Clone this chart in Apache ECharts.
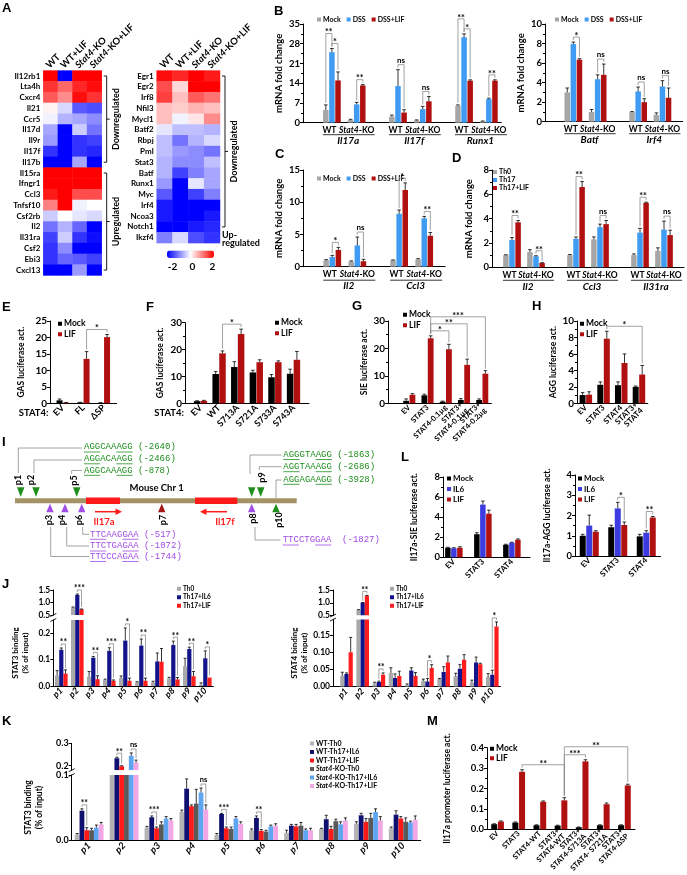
<!DOCTYPE html>
<html>
<head>
<meta charset="utf-8">
<title>Figure</title>
<script src="https://cdn.jsdelivr.net/npm/echarts@6.0.0/dist/echarts.min.js"></script>
<style>
html,body{margin:0;padding:0;background:#ffffff;}
#chart{width:687px;height:875px;}
</style>
</head>
<body>
<div id="chart"></div>
<script>
// ======================= DATA =======================
// ---- Panel A (z-scores) ----
const A_cols = ['WT','WT+LIF','Stat4-KO','Stat4-KO+LIF'];
const A1_genes = ['Il12rb1','Lta4h','Cxcr4','Il21','Ccr5','Il17d','Il9r','Il17f','Il17b','Il15ra','Ifngr1','Ccl3','Tnfsf10','Csf2rb','Il2','Il31ra','Csf2','Ebi3','Cxcl13'];
const A1_z = [
 [2.0,-2.0,2.0,2.0],[1.6,1.2,1.7,1.9],[1.3,0.9,1.9,1.6],[0.1,-0.3,-1.3,-1.4],[-0.1,-0.6,-0.7,-0.9],
 [-0.7,-2.0,-0.4,-1.1],[-0.8,-2.0,-1.6,-1.5],[-1.6,-2.0,-1.6,-1.7],[-2.0,-2.0,-0.7,-2.0],[2.0,2.0,2.0,2.0],
 [2.0,2.0,2.0,2.0],[1.8,2.0,1.4,1.4],[1.0,2.0,-0.1,0.0],[-0.4,0.0,-0.2,-0.3],[-1.1,-0.6,-1.2,-2.0],
 [-1.5,-0.4,-1.6,-1.9],[-1.6,-0.9,-2.0,-2.0],[-1.6,-1.2,-1.3,-1.5],[-2.0,-2.0,-0.8,-2.0]
];
const A2_genes = ['Egr1','Egr2','Irf8','Nfil3','Mycl1','Batf2','Rbpj','Pml','Stat3','Batf','Runx1','Myc','Irf4','Ncoa3','Notch1','Ikzf4'];
const A2_z = [
 [1.9,1.7,2.0,1.8],[1.4,0.3,2.0,2.0],[1.5,0.5,1.3,1.1],[0.5,0.4,0.6,0.5],[0.5,-0.1,0.2,0.9],
 [-0.2,-0.5,-0.5,-0.6],[-0.5,-1.1,-0.6,-0.3],[-0.5,-0.8,-0.9,-1.1],[-0.6,-0.9,-0.9,-0.5],[-0.6,-1.5,-1.0,-0.7],
 [-0.8,-2.0,-0.2,-0.7],[-1.3,-2.0,-1.5,-1.0],[-1.8,-2.0,-2.0,-2.0],[-1.8,-2.0,-2.0,-1.8],[-2.0,-2.0,-1.8,-1.7],
 [-1.0,-0.3,-1.4,-1.6]
];
const A_scaleTicks = [-2, 0, 2];

// ---- Panel B ----
const B1_groups = ['WT','Stat4-KO','WT','Stat4-KO','WT','Stat4-KO'];
const B1_genes = ['Il17a','Il17f','Runx1'];
const B1_mock = [4.5,1.0,2.2,0.8,6.0,0.5];
const B1_mockErr = [1.8,0.2,0.5,0.2,0.3,0.1];
const B1_dss = [25.0,6.5,13.0,4.8,30.3,8.4];
const B1_dssErr = [1.3,0.7,5.8,1.0,1.2,0.3];
const B1_lif = [15.0,13.2,3.6,7.6,14.9,14.9];
const B1_lifErr = [3.0,0.3,1.0,1.7,0.3,0.3];
const B1_sig = [[0,1,0,2,'*'],[0,0,0,1,'**'],[1,1,1,2,'**'],[2,1,2,2,'ns'],[3,1,3,2,'ns'],[4,1,4,2,'*'],[4,0,4,1,'**'],[5,1,5,2,'**']];

const B2_groups = ['WT','Stat4-KO','WT','Stat4-KO'];
const B2_genes = ['Batf','Irf4'];
const B2_mock = [3.0,1.0,1.0,0.7];
const B2_mockErr = [0.45,0.25,0.05,0.2];
const B2_dss = [7.95,4.35,3.1,3.6];
const B2_dssErr = [0.2,0.45,0.45,0.6];
const B2_lif = [6.35,4.8,2.0,2.45];
const B2_lifErr = [0.1,1.1,0.35,1.0];
const B2_sig = [[0,1,0,2,'*'],[1,1,1,2,'ns'],[2,1,2,2,'ns'],[3,1,3,2,'ns']];

// ---- Panel C ----
const C_groups = ['WT','Stat4-KO','WT','Stat4-KO'];
const C_genes = ['Il2','Ccl3'];
const C_mock = [1.0,0.8,1.0,1.15];
const C_mockErr = [0.1,0.1,0.05,0.1];
const C_dss = [1.5,3.3,8.2,7.5];
const C_dssErr = [0.25,1.3,0.6,0.3];
const C_lif = [2.6,0.85,11.9,4.8];
const C_lifErr = [0.4,0.3,1.1,0.5];
const C_sig = [[0,1,0,2,'*'],[1,1,1,2,'ns'],[2,1,2,2,'*'],[3,1,3,2,'**']];

// ---- Panel D ----
const D_groups = ['WT','Stat4-KO','WT','Stat4-KO','WT','Stat4-KO'];
const D_genes = ['Il2','Ccl3','Il31ra'];
const D_th0 = [1.0,1.25,1.0,2.3,1.0,1.35];
const D_th0Err = [0.03,0.2,0.05,0.2,0.1,0.25];
const D_th17 = [2.25,0.9,2.35,3.3,2.85,3.1];
const D_th17Err = [0.2,0.05,0.15,0.25,0.35,0.7];
const D_lif = [3.7,0.35,6.6,3.55,5.3,2.65];
const D_lifErr = [0.15,0.03,0.45,0.3,0.05,0.4];
const D_sig = [[0,1,0,2,'**'],[1,1,1,2,'**'],[2,1,2,2,'**'],[3,1,3,2,'ns'],[4,1,4,2,'**'],[5,1,5,2,'ns']];

// ---- Panel E ----
const E_groups = ['EV','FL','ΔSP'];
const E_mock = [0.9,0.25,0.15];
const E_mockErr = [0.4,0.05,0.05];
const E_lif = [0.2,13.5,20.1];
const E_lifErr = [0.05,2.2,0.8];
const E_sig = [[1,1,2,1,'*']];

// ---- Panel F ----
const F_groups = ['EV','WT','S713A','S721A','S733A','S743A'];
const F_mock = [0.8,10.9,13.5,11.5,9.7,11.0];
const F_mockErr = [0.15,0.9,2.0,0.8,1.0,1.7];
const F_lif = [0.9,18.6,25.8,15.3,15.3,16.2];
const F_lifErr = [0.2,0.9,1.8,0.9,0.5,3.1];
const F_sig = [[1,1,2,1,'*']];

// ---- Panel G ----
const G_groups = ['EV','STAT3','STAT4-0.1µg','STAT3+\nSTAT4-0.1µg','STAT3+\nSTAT4-0.2µg'];
const G_mock = [0.9,2.9,0.6,1.2,1.2];
const G_mockErr = [0.7,0.4,0.2,0.5,0.4];
const G_lif = [3.1,23.7,19.7,14.0,10.8];
const G_lifErr = [0.4,0.9,1.8,2.1,1.1];
const G_sig = [[1,1,2,1,'*'],[1,1,3,1,'**'],[1,1,4,1,'***']];

// ---- Panel H ----
const H_groups = ['EV','STAT3','STAT4','STAT3+\nSTAT4'];
const H_mock = [1.0,2.25,2.2,2.0];
const H_mockErr = [0.3,0.35,0.4,0.1];
const H_lif = [1.05,7.85,4.9,3.5];
const H_lifErr = [0.35,0.9,1.1,1.1];
const H_sig = [[1,1,3,1,'*']];

// ---- Panel I ----
const I_aggSites = ['p1','p2','p5','p8','p9','p10'];
const I_aggSeqs = ['AGGCAAAGG','AGGACAAGG','AGGCAAAGG','AGGGTAAGG','AGGTAAAGG','AGGAGAAGG'];
const I_aggPos = ['(-2640)','(-2466)','(-878)','(-1863)','(-2686)','(-3928)'];
const I_ttcSites = ['p6','p4','p3','p8'];
const I_ttcSeqs = ['TTCAAGGAA','TTCTGAGAA','TTCCCAGAA','TTCCTGGAA'];
const I_ttcPos = ['(-517)','(-1072)','(-1744)','(-1827)'];

// ---- Panel L ----
const L_groups = ['EV','STAT3','STAT4'];
const L1_mock = [0.95,2.3,1.25];
const L1_mockErr = [0.05,0.15,0.05];
const L1_il6 = [0.9,5.25,1.45];
const L1_il6Err = [0.05,0.35,0.05];
const L1_lif = [0.95,4.35,1.75];
const L1_lifErr = [0.1,0.35,0.08];
const L2_mock = [1.0,1.42,0.97];
const L2_mockErr = [0.07,0.1,0.1];
const L2_il6 = [1.5,2.35,1.15];
const L2_il6Err = [0.52,0.3,0.1];
const L2_lif = [1.2,1.53,1.9];
const L2_lifErr = [0.05,0.15,0.05];
const L2_sig = [[1,1,1,2,'*'],[2,1,2,2,'**']];

// ---- Panel J ----
const J_sites = ['p1','p2','p3','p4','p5','p6','p7','p8','p9','p10'];
const J1_th0 = [0.04,0.8,0.035,0.022,0.03,0.013,0.013,0.028,0.075,0.005];
const J1_th0Err = [0.018,0.02,0.02,0.004,0.008,0.003,0.005,0.005,0.03,0.007];
const J1_il6 = [0.137,1.3,0.107,0.133,0.172,0.153,0.093,0.155,0.14,0.105];
const J1_il6Err = [0.007,0.04,0.005,0.012,0.048,0.025,0.032,0.015,0.007,0.028];
const J1_lif = [0.047,0.73,0.026,0.02,0.02,0.02,0.092,0.025,0.037,0.032];
const J1_lifErr = [0.014,0.01,0.013,0.003,0.01,0.01,0.05,0.007,0.018,0.0];
const J1_sigLow = [[0,1,0,2,'**'],[2,1,2,2,'**'],[3,1,3,2,'***'],[4,1,4,2,'*'],[5,1,5,2,'**'],[7,1,7,2,'**'],[8,1,8,2,'**'],[9,1,9,2,'*']];
const J1_sigUp = [[1,1,1,2,'***']];
const J2_th0 = [0.032,0.72,0.01,0.04,0.005,0.017,0.022,0.03,0.012,0.028];
const J2_th0Err = [0.01,0.01,0.003,0.015,0.003,0.005,0.002,0.009,0.007,0.01];
const J2_il6 = [0.037,1.0,0.014,0.025,0.047,0.015,0.043,0.052,0.07,0.035];
const J2_il6Err = [0.003,0.01,0.002,0.012,0.008,0.009,0.015,0.012,0.016,0.013];
const J2_lif = [0.1,1.27,0.035,0.031,0.031,0.054,0.07,0.078,0.065,0.175];
const J2_lifErr = [0.043,0.02,0.005,0.014,0.01,0.01,0.019,0.015,0.003,0.013];
const J2_sigLow = [[2,1,2,2,'**'],[5,1,5,2,'*'],[9,1,9,2,'*']];
const J2_sigUp = [[1,1,1,2,'**']];

// ---- Panel K ----
const K_names = ['WT-Th0','WT-Th17+IL6','WT-Th17+LIF','Stat4-KO-Th0','Stat4-KO-Th17+IL6','Stat4-KO-Th17+LIF'];
const K_wtTh0 = [0.008,0.15,0.019,0.043,0.008,0.015,0.011,0.017,0.025,0.018];
const K_wtTh0Err = [0.002,0.005,0.002,0.003,0.002,0.002,0.004,0.001,0.003,0.002];
const K_wtIl6 = [0.045,0.233,0.035,0.079,0.04,0.034,0.022,0.032,0.038,0.039];
const K_wtIl6Err = [0.003,0.005,0.002,0.015,0.001,0.003,0.002,0.006,0.003,0.006];
const K_wtLif = [0.015,0.198,0.018,0.052,0.018,0.014,0.021,0.017,0.028,0.033];
const K_wtLifErr = [0.004,0.002,0.002,0.002,0.002,0.002,0.003,0.004,0.005,0.003];
const K_koTh0 = [0.015,0.15,0.024,0.056,0.017,0.013,0.022,0.029,0.034,0.028];
const K_koTh0Err = [0.003,0.005,0.004,0.022,0.003,0.002,0.005,0.003,0.007,0.006];
const K_koIl6 = [0.019,0.245,0.033,0.073,0.033,0.021,0.015,0.024,0.043,0.027];
const K_koIl6Err = [0.004,0.012,0.003,0.007,0.003,0.002,0.002,0.004,0.005,0.002];
const K_koLif = [0.024,0.213,0.03,0.047,0.025,0.022,0.015,0.03,0.03,0.031];
const K_koLifErr = [0.003,0.012,0.003,0.007,0.003,0.003,0.003,0.004,0.006,0.006];
const K_sigLow = [[0,1,0,2,'**'],[2,1,2,2,'***'],[3,4,3,5,'ns'],[4,1,4,2,'***'],[5,1,5,2,'**']];
const K_sigUp = [[1,1,1,2,'**'],[1,4,1,5,'ns']];

// ---- Panel M ----
const M_groups = ['EV','STAT3','STAT4-WT','STAT3+\nSTAT4-WT','STAT3+\nSTAT4-S713A','STAT3+\nSTAT4- S721A','STAT3+\nSTAT4-ΔSP'];
const M_mock = [0.025,0.033,0.02,0.018,0.01,0.02,0.02];
const M_mockErr = [0.002,0.003,0.002,0.002,0.001,0.002,0.002];
const M_lif = [0.038,0.282,0.135,0.142,0.333,0.123,0.215];
const M_lifErr = [0.003,0.01,0.004,0.013,0.008,0.006,0.006];
const M_sig = [[1,1,3,1,'**'],[3,1,4,1,'***'],[3,1,6,1,'**']];

// ======================= STYLE =======================
const FONT = 'Lato, "Liberation Sans", Arial, sans-serif';
const C_GRAY = '#a6a6a6', C_BLUE = '#3f9cf2', C_DRED = '#b01010', C_BLACK = '#000000', C_IL6 = '#3b3be0';
const J_GRAY = '#a9a9a9', J_NAVY = '#13138a', J_RED = '#ff1c1c';
const K_COLORS = ['#b4b4b4','#101070','#ff1a1a','#5a5a5a','#5ea6f2','#f2a6e6'];

const option = { animation:false, backgroundColor:'#ffffff', grid:[], xAxis:[], yAxis:[], series:[], legend:[], graphic:[], visualMap:[] };
const richI = fs => ({ i:{ fontStyle:'italic', fontWeight:'bold', fontSize:fs, fontFamily:FONT, color:'#000' },
                       w:{ fontWeight:'bold', fontSize:fs, fontFamily:FONT, color:'#000', padding:[0,5,0,0] } });
const ital = s => String(s).replace('Stat4', '{i|Stat4}');
const slotsPaired = (n, lead) => Array.from({length:n}, (_, i) => lead + i*3 + Math.floor(i/2)*2);
const slotsEven = (n, lead, step) => Array.from({length:n}, (_, i) => lead + i*step);
function tstyle(o){ return Object.assign({ fill:'#000', align:o.textAlign||'center', verticalAlign:o.textVerticalAlign||'middle' }, o); }

// ======================= BAR PANEL =======================
function barPanel(p) {
  const gi = option.grid.length;
  option.grid.push({ left:p.x0, top:p.yTop, width:p.N*p.w, height:p.yBot-p.yTop });
  const cats = new Array(p.N).fill('');
  if (p.labels) p.pos.forEach((s,i)=>{ cats[s] = p.labels[i]; });
  const xi = option.xAxis.length, yi = option.yAxis.length;
  const xFs = p.xFs || 9;
  const xAxis = { gridIndex:gi, type:'category', data:cats,
    axisLine:{ show:p.xLine!==false, lineStyle:{color:'#000', width:1} },
    axisTick:{ show:false }, splitLine:{ show:false },
    axisLabel: p.xLine===false ? {show:false} : Object.assign({ interval:0, color:'#000', fontFamily:FONT, fontWeight:'bold', fontSize:xFs, margin:3, rich:richI(xFs),
      formatter:v => (p.genes && v==='WT') ? '{w|WT}' : ital(v) }, p.xLabel||{}) };
  if (p.xName) Object.assign(xAxis, { name:p.xName, nameLocation:'start', nameGap:p.xNameGap||2,
    nameTextStyle:{ color:'#000', fontFamily:FONT, fontWeight:'bold', fontSize:9.5, verticalAlign:'top', align:'right', padding:[5,0,0,0] } });
  option.xAxis.push(xAxis);
  const tFs = p.tickFs || 9.5, nFs = p.nameFs || 9;
  const yAxis = { gridIndex:gi, type:'value', min:p.ymin, max:p.ymax,
    axisLine:{ show:true, lineStyle:{color:'#000', width:1} },
    axisTick:{ show:true, length:3, lineStyle:{color:'#000', width:1} },
    minorTick:{ show:!!p.minor, splitNumber:2, length:2, lineStyle:{color:'#000', width:1} },
    splitLine:{ show:false }, minorSplitLine:{ show:false },
    axisLabel:{ color:'#000', fontFamily:FONT, fontWeight:'bold', fontSize:tFs, margin:3 },
    name:p.yName||'', nameLocation:'middle', nameGap:p.nameGap||20,
    nameTextStyle:{ color:'#000', fontFamily:FONT, fontWeight:'bold', fontSize:nFs, lineHeight:Math.round(nFs*1.25) } };
  if (p.yint != null) yAxis.interval = p.yint;
  if (p.yFmt) yAxis.axisLabel.formatter = p.yFmt;
  if (p.yCustom) { yAxis.axisLabel.customValues = p.yCustom; yAxis.axisTick.customValues = p.yCustom; }
  option.yAxis.push(yAxis);

  const n = p.series.length, bw = p.bw, step = p.bw + (p.gp||0), cap = p.cap || 1.8;
  const off = j => (j - (n-1)/2) * step;
  const ymin = p.ymin;
  p.series.forEach((s, j) => {
    option.series.push({ type:'custom', name:s.name+'#'+p.id, coordinateSystem:'cartesian2d', xAxisIndex:xi, yAxisIndex:yi,
      clip:!!p.clip, silent:true, itemStyle:{ color:s.color },
      data:p.pos.map((slot,i)=>[slot, s.vals[i], s.errs[i]]),
      renderItem:(params, api) => {
        const slot = api.value(0), v = api.value(1), e = api.value(2);
        if (!(v > ymin)) return null;
        const b = api.coord([slot, ymin]), t = api.coord([slot, v]), te = api.coord([slot, v+e]);
        const cx = b[0] + off(j);
        const ch = [{ type:'rect', shape:{ x:cx-bw/2, y:t[1], width:bw, height:b[1]-t[1] }, style:{ fill:s.color } }];
        if (e > 0) {
          ch.push({ type:'line', shape:{ x1:cx, y1:t[1], x2:cx, y2:te[1] }, style:{ stroke:'#000', lineWidth:0.8 } });
          ch.push({ type:'line', shape:{ x1:cx-cap, y1:te[1], x2:cx+cap, y2:te[1] }, style:{ stroke:'#000', lineWidth:0.8 } });
        }
        return { type:'group', children:ch };
      } });
  });

  if (p.sig && p.sig.length) {
    const pad = p.pad || 5, lvl = p.lvl || 9;
    const geo = api => {
      const res = [];
      const bx = (g,s) => api.coord([p.pos[g], ymin])[0] + off(s);
      const top = (g,s) => api.coord([p.pos[g], p.series[s].vals[g] + p.series[s].errs[g]])[1];
      p.sig.forEach(sg => {
        const [gA, sA, gB, sB, label] = sg;
        let m = Infinity;
        for (let g = gA; g <= gB; g++) for (let s = (g===gA?sA:0); s <= (g===gB?sB:n-1); s++) m = Math.min(m, top(g,s));
        const x1 = bx(gA,sA), x2 = bx(gB,sB);
        let yh = m - pad;
        res.forEach(r => { if (r.x1 <= x2 + 0.1 && x1 <= r.x2 + 0.1) yh = Math.min(yh, r.yh - lvl); });
        res.push({ x1, x2, yh, yA:top(gA,sA), yB:top(gB,sB), label });
      });
      return res;
    };
    const sfs = p.sigFs || 9;
    option.series.push({ type:'custom', coordinateSystem:'cartesian2d', xAxisIndex:xi, yAxisIndex:yi, silent:true, clip:false, z:5,
      data:p.sig.map(()=>[p.pos[0], ymin]),
      renderItem:(params, api) => {
        const r = geo(api)[params.dataIndex];
        const stars = r.label !== 'ns';
        return { type:'group', children:[
          { type:'polyline', shape:{ points:[[r.x1, Math.max(r.yA-2, r.yh)], [r.x1, r.yh], [r.x2, r.yh], [r.x2, Math.max(r.yB-2, r.yh)]] }, style:{ stroke:'#8a8a8a', lineWidth:0.8, fill:null } },
          { type:'text', x:(r.x1+r.x2)/2, y:r.yh + (stars ? sfs*0.38 : -0.5),
            style:tstyle({ text:r.label, font:'bold '+(stars?sfs:sfs-1)+'px '+FONT, textAlign:'center', textVerticalAlign:'bottom' }) }
        ] };
      } });
  }

  if (p.genes) {
    const gdy = p.geneDy || [12, 13];
    option.series.push({ type:'custom', coordinateSystem:'cartesian2d', xAxisIndex:xi, yAxisIndex:yi, silent:true, clip:false,
      data:p.genes.map(()=>[p.pos[0], ymin]),
      renderItem:(params, api) => {
        const k = params.dataIndex;
        const pa = api.coord([p.pos[2*k], ymin]), pb = api.coord([p.pos[2*k+1], ymin]);
        const y0 = pa[1];
        return { type:'group', children:[
          { type:'line', shape:{ x1:pa[0]-9, y1:y0+gdy[0], x2:pb[0]+18, y2:y0+gdy[0] }, style:{ stroke:'#000', lineWidth:0.8 } },
          { type:'text', x:(pa[0]+pb[0])/2+4, y:y0+gdy[1], style:tstyle({ text:p.genes[k], font:'italic bold 10px '+FONT, textAlign:'center', textVerticalAlign:'top' }) }
        ] };
      } });
  }

  if (p.legend) {
    const L = p.legend, fs = L.fs || 7;
    option.legend.push({ data:p.series.map(s=>s.name+'#'+p.id), left:L.left, top:L.top, orient:L.orient||'vertical',
      itemWidth:L.icon||4, itemHeight:L.icon||4, itemGap:L.gap!=null?L.gap:2, icon:'rect', padding:0, selectedMode:false,
      formatter:nm => ital(nm.split('#')[0]),
      textStyle:{ color:'#000', fontFamily:FONT, fontWeight:'bold', fontSize:fs, lineHeight:fs+1, padding:[0,0,0,-3], rich:richI(fs) } });
  }
  return { xi, yi };
}

// ======================= PANEL A (heatmaps) =======================
const ROWH = 10.78;
function heatPanel(left, top, width, genes, z, brackets, extraText) {
  const gi = option.grid.length;
  option.grid.push({ left, top, width, height:genes.length*ROWH });
  const xi = option.xAxis.length, yi = option.yAxis.length;
  option.xAxis.push({ gridIndex:gi, type:'category', data:A_cols, position:'top', axisLine:{show:false}, axisTick:{show:false}, splitLine:{show:false},
    axisLabel:{ show:false } });
  option.yAxis.push({ gridIndex:gi, type:'category', data:genes, inverse:true, axisLine:{show:false}, axisTick:{show:false}, splitLine:{show:false},
    axisLabel:{ interval:0, margin:3, color:'#000', fontFamily:FONT, fontWeight:'bold', fontSize:8 } });
  const data = [];
  z.forEach((row, r) => row.forEach((v, c) => data.push([c, r, v])));
  const si = option.series.length;
  option.series.push({ type:'heatmap', xAxisIndex:xi, yAxisIndex:yi, data, silent:true, itemStyle:{ borderWidth:0 }, progressive:0 });
  // rotated column labels (through the category axis)
  option.series.push({ type:'custom', coordinateSystem:'cartesian2d', xAxisIndex:xi, yAxisIndex:yi, silent:true, clip:false,
    data:A_cols.map((c,i)=>[i, 0]),
    renderItem:(params, api) => {
      const cs = params.coordSys;
      const x = api.coord([api.value(0), 0])[0];
      return { type:'text', x:x-3, y:cs.y-4, rotation:Math.PI/4,
        style:{ text:ital(A_cols[params.dataIndex]), font:'bold 9.5px '+FONT, fill:'#000', align:'left', verticalAlign:'middle',
                rich:{ i:{ fontStyle:'italic', fontWeight:'bold', fontSize:9.5, fontFamily:FONT, fill:'#000' } } } };
    } });
  option.series.push({ type:'custom', coordinateSystem:'cartesian2d', xAxisIndex:xi, yAxisIndex:yi, silent:true, clip:false,
    data:brackets.map(b=>[0, b.r0]),
    renderItem:(params, api) => {
      const d = brackets[params.dataIndex];
      const cs = params.coordSys;
      const x = cs.x + cs.width + 5;
      const y0 = api.coord([0, d.r0])[1], y1 = api.coord([0, d.r1])[1], ym = (y0+y1)/2;
      return { type:'group', children:[
        { type:'polyline', shape:{ points:[[x-3,y0],[x,y0],[x,y1],[x-3,y1]] }, style:{ stroke:'#000', lineWidth:0.9, fill:null } },
        { type:'line', shape:{ x1:x, y1:ym, x2:x+3, y2:ym }, style:{ stroke:'#000', lineWidth:0.9 } },
        { type:'text', rotation:Math.PI/2, x:x+9, y:ym, style:tstyle({ text:d.text, font:'bold 9px '+FONT }) }
      ] };
    } });
  if (extraText) {
    option.series.push({ type:'custom', coordinateSystem:'cartesian2d', xAxisIndex:xi, yAxisIndex:yi, silent:true, clip:false,
      data:[[0, extraText.row]],
      renderItem:(params, api) => {
        const cs = params.coordSys;
        const y = api.coord([0, extraText.row])[1];
        return { type:'text', x:cs.x+cs.width+2, y:y+1, style:tstyle({ text:extraText.text, font:'bold 9px '+FONT, textAlign:'left', textVerticalAlign:'middle', lineHeight:8 }) };
      } });
  }
  return si;
}
const hs1 = heatPanel(43.3, 70.6, 58.4, A1_genes, A1_z, [{r0:0, r1:8, text:'Downregulated'}, {r0:9, r1:18, text:'Upregulated'}]);
const hs2 = heatPanel(156.7, 70.6, 63.3, A2_genes, A2_z, [{r0:0, r1:14, text:'Downregulated'}], {row:15, text:'Up-\nregulated'});
option.visualMap.push({ type:'continuous', min:-2, max:2, seriesIndex:[hs1, hs2], orient:'horizontal', left:167, top:250.5,
  itemWidth:7.5, itemHeight:47, calculable:false, padding:0, hoverLink:false, text:null, showLabel:false,
  inRange:{ color:['#0000ff','#ffffff','#ff0000'] } });
(function(){
  const gi = option.grid.length;
  option.grid.push({ left:172.5, top:258, width:40, height:1 });
  option.xAxis.push({ gridIndex:gi, type:'value', min:A_scaleTicks[0], max:A_scaleTicks[2], interval:A_scaleTicks[2]-A_scaleTicks[1],
    axisLine:{show:false}, axisTick:{show:false}, splitLine:{show:false},
    axisLabel:{ color:'#000', fontFamily:FONT, fontWeight:'bold', fontSize:10, margin:3 } });
  option.yAxis.push({ gridIndex:gi, type:'value', show:false });
})();

// ======================= PANELS B, C, D =======================
const mdl = (a,b,c,ae,be,ce,names,cols) => [
  {name:names[0], color:cols[0], vals:a, errs:ae},{name:names[1], color:cols[1], vals:b, errs:be},{name:names[2], color:cols[2], vals:c, errs:ce}];
const BC_names = ['Mock','DSS','DSS+LIF'], BC_cols = [C_GRAY, C_BLUE, C_DRED];
barPanel({ id:'B1', x0:303, w:8.26, N:24, pos:slotsPaired(6,3), yTop:24, yBot:122.7, labels:B1_groups, genes:B1_genes, xFs:8.5,
  series:mdl(B1_mock,B1_dss,B1_lif,B1_mockErr,B1_dssErr,B1_lifErr,BC_names,BC_cols),
  ymin:0, ymax:35, yint:7, minor:true, bw:5.5, gp:0.6, sig:B1_sig, pad:5, lvl:10,
  yName:'mRNA fold change', nameGap:12.5, nameFs:9.5, tickFs:9.5, legend:{left:317, top:15.5, orient:'horizontal', fs:7, gap:6} });
barPanel({ id:'B2', x0:545, w:8.1, N:17, pos:slotsPaired(4,3), yTop:24, yBot:121.7, labels:B2_groups, genes:B2_genes, xFs:8.5,
  series:mdl(B2_mock,B2_dss,B2_lif,B2_mockErr,B2_dssErr,B2_lifErr,BC_names,BC_cols),
  ymin:0, ymax:10, yint:2, minor:true, bw:5.5, gp:0.6, sig:B2_sig, pad:5, lvl:10,
  yName:'mRNA fold change', nameGap:10.5, nameFs:9.5, tickFs:9.5, legend:{left:555, top:15.5, orient:'horizontal', fs:7, gap:6} });
barPanel({ id:'C', x0:303, w:8.36, N:17, pos:slotsPaired(4,3), yTop:170, yBot:266.7, labels:C_groups, genes:C_genes, geneDy:[13.5,14.5], xFs:8.5,
  series:mdl(C_mock,C_dss,C_lif,C_mockErr,C_dssErr,C_lifErr,BC_names,BC_cols),
  ymin:0, ymax:15, yint:5, minor:true, bw:5.5, gp:0.6, sig:C_sig, pad:5, lvl:10,
  yName:'mRNA fold change', nameGap:12.5, nameFs:9.5, tickFs:9.5, legend:{left:317, top:174.5, orient:'horizontal', fs:7, gap:6} });
barPanel({ id:'D', x0:492, w:8.0, N:24, pos:slotsPaired(6,2), yTop:170, yBot:267.3, labels:D_groups, genes:D_genes, geneDy:[13,14], xFs:8.5,
  series:mdl(D_th0,D_th17,D_lif,D_th0Err,D_th17Err,D_lifErr,['Th0','Th17','Th17+LIF'],BC_cols),
  ymin:0, ymax:8, yint:2, minor:true, bw:5.5, gp:0.6, sig:D_sig, pad:5, lvl:10,
  yName:'mRNA fold change', nameGap:17, nameFs:9.5, tickFs:9.5, legend:{left:493, top:168, orient:'vertical', fs:7, gap:0} });

// ======================= PANELS E, F, G, H =======================
const two = (a,b,ae,be,n1,n2,c1,c2) => [{name:n1, color:c1, vals:a, errs:ae},{name:n2, color:c2, vals:b, errs:be}];
barPanel({ id:'E', x0:50, w:5.125, N:13, pos:slotsEven(3,2,4), yTop:321, yBot:403.3, labels:E_groups,
  series:two(E_mock,E_lif,E_mockErr,E_lifErr,'Mock','LIF',C_BLACK,C_DRED),
  ymin:0, ymax:25, yint:5, minor:false, bw:6, gp:0.5, sig:E_sig, xName:'STAT4:', xNameGap:1,
  xLabel:{rotate:45, fontSize:9, margin:3}, yName:'GAS luciferase act.', nameGap:23, nameFs:8.5, tickFs:10,
  legend:{left:58, top:319, fs:8.5, gap:1} });
barPanel({ id:'F', x0:185, w:6.2, N:20, pos:slotsEven(6,2,3), yTop:322.7, yBot:403.3, labels:F_groups,
  series:two(F_mock,F_lif,F_mockErr,F_lifErr,'Mock','LIF',C_BLACK,C_DRED),
  ymin:0, ymax:30, yint:10, minor:true, bw:6.5, gp:0.3, sig:F_sig, xName:'STAT4:', xNameGap:1,
  xLabel:{rotate:45, fontSize:9, margin:3}, yName:'GAS luciferase act.', nameGap:19, nameFs:8.5, tickFs:10,
  legend:{left:275, top:318, fs:8.5, gap:1} });
barPanel({ id:'G', x0:388, w:6.08, N:17, pos:slotsEven(5,3,3), yTop:321, yBot:403.3, labels:G_groups,
  series:two(G_mock,G_lif,G_mockErr,G_lifErr,'Mock','LIF',C_BLACK,C_DRED),
  ymin:0, ymax:30, yint:10, minor:true, bw:5.8, gp:0.5, sig:G_sig, lvl:7,
  xLabel:{rotate:45, fontSize:7.5, margin:3, lineHeight:8}, yName:'SIE luciferase act.', nameGap:15.5, nameFs:8.5, tickFs:10,
  legend:{left:403, top:310, fs:8.5, gap:1} });
barPanel({ id:'H', x0:577, w:5.9, N:12, pos:slotsEven(4,1,3), yTop:321, yBot:403.3, labels:H_groups,
  series:two(H_mock,H_lif,H_mockErr,H_lifErr,'Mock','LIF',C_BLACK,C_DRED),
  ymin:0, ymax:10, yint:2, minor:true, bw:6, gp:0.5, sig:H_sig,
  xLabel:{rotate:45, fontSize:8, margin:3, lineHeight:8}, yName:'AGG luciferase act.', nameGap:15.5, nameFs:8.5, tickFs:10,
  legend:{left:580, top:319, fs:8.5, gap:1} });

// ======================= PANEL L =======================
const LN = ['Mock','IL6','LIF'], LC = [C_BLACK, C_IL6, C_DRED];
barPanel({ id:'L1', x0:443, w:7.25, N:12, pos:slotsEven(3,1,4), yTop:477, yBot:557.3, labels:L_groups,
  series:mdl(L1_mock,L1_il6,L1_lif,L1_mockErr,L1_il6Err,L1_lifErr,LN,LC),
  ymin:0, ymax:8, yint:2, minor:true, bw:5.5, gp:0.5,
  xLabel:{rotate:45, fontSize:8, margin:3}, yName:'Il17a-SIE luciferase act.', nameGap:23, nameFs:8.5, tickFs:9.5,
  legend:{left:447, top:474, fs:8, gap:1.5} });
barPanel({ id:'L2', x0:575, w:5.7, N:15, pos:slotsEven(3,2,5), yTop:475, yBot:556, labels:L_groups,
  series:mdl(L2_mock,L2_il6,L2_lif,L2_mockErr,L2_il6Err,L2_lifErr,LN,LC),
  ymin:0, ymax:4, yint:1, minor:true, bw:6, gp:0.5, sig:L2_sig,
  xLabel:{rotate:45, fontSize:8, margin:3}, yName:'Il17a-AGG luciferase act.', nameGap:22, nameFs:8.5, tickFs:9.5,
  legend:{left:578, top:474, fs:8, gap:1.5} });

// ======================= PANEL J (broken axes) =======================
const JN = ['Th0','Th17+IL6','Th17+LIF'], JC = [J_GRAY, J_NAVY, J_RED];
const pLab = {rotate:45, fontSize:9, fontStyle:'italic', margin:3};
barPanel({ id:'J1', x0:53.3, w:16, N:10, pos:slotsEven(10,0,1), yTop:620, yBot:686, labels:J_sites,
  series:mdl(J1_th0,J1_il6,J1_lif,J1_th0Err,J1_il6Err,J1_lifErr,JN,JC),
  ymin:0, ymax:0.25, yCustom:[0,0.1,0.2], yFmt:v=>v.toFixed(1), bw:4.2, gp:0, cap:1.5, clip:true, sig:J1_sigLow, sigFs:8.5, pad:4, 
  xLabel:pLab, yName:'STAT3 binding\n(% of input)', nameGap:23, nameFs:8, tickFs:8.5, legend:{left:177, top:585, fs:6.5, gap:1} });
barPanel({ id:'J1u', x0:53.3, w:16, N:10, pos:slotsEven(10,0,1), yTop:590, yBot:615, xLine:false,
  series:mdl(J1_th0,J1_il6,J1_lif,J1_th0Err,J1_il6Err,J1_lifErr,JN,JC),
  ymin:0.5, ymax:1.5, yint:0.5, yFmt:v=>v.toFixed(1), bw:4.2, gp:0, cap:1.5, clip:true, sig:J1_sigUp, sigFs:8.5, pad:4, tickFs:8.5 });
barPanel({ id:'J2', x0:333, w:5.4, N:31, pos:slotsEven(10,2,3), yTop:619.5, yBot:686.7, labels:J_sites,
  series:mdl(J2_th0,J2_il6,J2_lif,J2_th0Err,J2_il6Err,J2_lifErr,JN,JC),
  ymin:0, ymax:0.195, yCustom:[0,0.05,0.1,0.15], yFmt:v=>v.toFixed(2), bw:4.2, gp:0, cap:1.5, clip:true, sig:J2_sigLow, sigFs:8.5, pad:4,
  xLabel:pLab, yName:'STAT4 binding\n(% of input)', nameGap:22, nameFs:8, tickFs:8.5, legend:{left:390, top:585, fs:6.5, gap:1} });
barPanel({ id:'J2u', x0:333, w:5.4, N:31, pos:slotsEven(10,2,3), yTop:590, yBot:615.5, xLine:false,
  series:mdl(J2_th0,J2_il6,J2_lif,J2_th0Err,J2_il6Err,J2_lifErr,JN,JC),
  ymin:0.5, ymax:1.5, yint:0.5, yFmt:v=>v.toFixed(1), bw:4.2, gp:0, cap:1.5, clip:true, sig:J2_sigUp, sigFs:8.5, pad:4, tickFs:8.5 });

// ======================= PANEL K (broken axis) =======================
const kSeries = () => [
  {name:K_names[0], color:K_COLORS[0], vals:K_wtTh0, errs:K_wtTh0Err},
  {name:K_names[1], color:K_COLORS[1], vals:K_wtIl6, errs:K_wtIl6Err},
  {name:K_names[2], color:K_COLORS[2], vals:K_wtLif, errs:K_wtLifErr},
  {name:K_names[3], color:K_COLORS[3], vals:K_koTh0, errs:K_koTh0Err},
  {name:K_names[4], color:K_COLORS[4], vals:K_koIl6, errs:K_koIl6Err},
  {name:K_names[5], color:K_COLORS[5], vals:K_koLif, errs:K_koLifErr}];
barPanel({ id:'K', x0:71.7, w:34.9, N:10, pos:slotsEven(10,0,1), yTop:775, yBot:840, labels:J_sites, series:kSeries(),
  ymin:0, ymax:0.1, yCustom:[0,0.1], yFmt:v=>v.toFixed(1), bw:4.8, gp:0, cap:1.5, clip:true, sig:K_sigLow, sigFs:8.5, pad:4,
  xLabel:{rotate:45, fontSize:9.5, fontStyle:'italic', margin:4}, yName:'STAT3 binding\n(% of input)', nameGap:22, nameFs:8.5, tickFs:9,
  legend:{left:310, top:739.5, fs:7, gap:0.5} });
barPanel({ id:'Ku', x0:71.7, w:34.9, N:10, pos:slotsEven(10,0,1), yTop:743.3, yBot:770.2, xLine:false, series:kSeries(),
  ymin:0.18, ymax:0.3, yCustom:[0.2,0.3], yFmt:v=>v.toFixed(1), bw:4.8, gp:0, cap:1.5, clip:true, sig:K_sigUp, sigFs:8.5, pad:4, tickFs:9 });

// ======================= PANEL M =======================
barPanel({ id:'M', x0:487, w:21.14, N:7, pos:slotsEven(7,0,1), yTop:747.7, yBot:829.3, labels:M_groups,
  series:two(M_mock,M_lif,M_mockErr,M_lifErr,'Mock','LIF',C_BLACK,C_DRED),
  ymin:0, ymax:0.4, yint:0.1, yFmt:v=>v.toFixed(1), minor:true, bw:6, gp:0.7, sig:M_sig, lvl:8,
  xLabel:{rotate:45, fontSize:7.5, margin:3, lineHeight:8}, yName:'Il17a promoter luciferase act.', nameGap:34, nameFs:8.5, tickFs:9.5,
  legend:{left:490, top:744, fs:8.5, gap:0} });

// ======================= GRAPHICS: letters, panel I, axis breaks =======================
const G = option.graphic;
const letter = (t, x, y) => G.push({ type:'text', x, y, style:{ text:t, font:'bold 13px "Liberation Sans", Arial, sans-serif', fill:'#000', textAlign:'left', textVerticalAlign:'top' } });
[['A',2,2],['B',274,5],['C',275,148],['D',452,152],['E',2,301],['F',146,301],['G',352,300],['H',532,300],['I',2,436],['L',401,451],['J',2,578],['K',2,715],['M',427,715]].forEach(a=>letter(a[0],a[1],a[2]));

(function drawI(){
  const col = { bar:'#a39263', red:'#ff1a1a', green:'#1e8f1e', purple:'#a14de6', dred:'#a31515', gray:'#8c8c8c' };
  const X = { p1:20.7, p2:36, p3:50, p4:65, p5:76.7, p6:81.7, p7:161.7, p8:251.7, p9:260.7, p10:276 };
  G.push({ type:'rect', shape:{ x:15, y:498.3, width:281.7, height:5 }, style:{ fill:col.bar } });
  G.push({ type:'rect', shape:{ x:86, y:497.5, width:34, height:6.5 }, style:{ fill:col.red } });
  G.push({ type:'rect', shape:{ x:195, y:497.5, width:42.3, height:6.5 }, style:{ fill:col.red } });
  const triDown = (cx, c) => G.push({ type:'polygon', shape:{ points:[[cx-3.7,487.3],[cx+3.7,487.3],[cx,497]] }, style:{ fill:c } });
  const triUp = (cx, c) => G.push({ type:'polygon', shape:{ points:[[cx-3.7,512.3],[cx+3.7,512.3],[cx,503.8]] }, style:{ fill:c } });
  ['p1','p2','p5','p8','p9'].forEach(s=>triDown(X[s], col.green));
  ['p3','p4','p6','p8'].forEach(s=>triUp(X[s], col.purple));
  triUp(X.p7, col.dred); triUp(X.p10, col.green);
  const plab = (t, x, y) => G.push({ type:'text', x, y, rotation:Math.PI/2, style:{ text:t, font:'bold 9px '+FONT, fill:'#000', textAlign:'center', textVerticalAlign:'middle' } });
  plab('p1',18.3,480); plab('p2',31.2,480); plab('p5',74,480.5); plab('p9',262.3,477.5);
  plab('p3',49,520); plab('p4',61.7,520); plab('p6',79.3,520); plab('p7',163.3,520); plab('p8',252.7,518.5); plab('p10',279.3,520);
  const pl = pts => G.push({ type:'polyline', shape:{ points:pts }, style:{ stroke:col.gray, lineWidth:0.8, fill:null } });
  pl([[18.3,473],[18.3,448],[82,448]]); pl([[34,473],[34,460],[82,460]]); pl([[71.7,474],[71.7,470.5],[82,470.5]]);
  pl([[250,474],[250,455],[281.5,455]]); pl([[259.3,470],[259.3,466.7],[281.5,466.7]]); pl([[276,498],[276,480],[281.5,480]]);
  pl([[82.7,527],[82.7,534.3],[89,534.3]]); pl([[66.7,527],[66.7,546],[89,546]]); pl([[50.7,527],[50.7,556.5],[89,556.5]]);
  pl([[255,527],[255,540],[280.5,540]]);
  const CW = 5.4;
  const seq = (s, pos, x, y, c, sep) => {
    G.push({ type:'text', x, y, style:{ text:s + sep + pos, font:'9px "Liberation Mono", "DejaVu Sans Mono", monospace', fill:c, textAlign:'left', textVerticalAlign:'middle' } });
    G.push({ type:'line', shape:{ x1:x, y1:y+5, x2:x+3*CW, y2:y+5 }, style:{ stroke:c, lineWidth:0.8 } });
    G.push({ type:'line', shape:{ x1:x+6*CW, y1:y+5, x2:x+9*CW, y2:y+5 }, style:{ stroke:c, lineWidth:0.8 } });
  };
  const aggXY = [[84,447],[84,458.8],[84,470.3],[283.3,454.5],[283.3,466.7],[283.3,479.3]];
  I_aggSeqs.forEach((s,i)=>seq(s, I_aggPos[i], aggXY[i][0], aggXY[i][1], col.green, ' '));
  const ttcXY = [[90,534.3],[90,546],[90,556.5],[282.7,540]];
  I_ttcSeqs.forEach((s,i)=>seq(s, I_ttcPos[i], ttcXY[i][0], ttcXY[i][1], col.purple, i===3?'  ':' '));
  G.push({ type:'text', x:156.7, y:488.3, style:{ text:'Mouse Chr 1', font:'bold 9.5px '+FONT, fill:'#000', textAlign:'center', textVerticalAlign:'middle' } });
  G.push({ type:'line', shape:{ x1:95, y1:511.7, x2:117, y2:511.7 }, style:{ stroke:col.red, lineWidth:1.5 } });
  G.push({ type:'polygon', shape:{ points:[[115.5,508.4],[122,511.7],[115.5,515]] }, style:{ fill:col.red } });
  G.push({ type:'line', shape:{ x1:205, y1:511.7, x2:227, y2:511.7 }, style:{ stroke:col.red, lineWidth:1.5 } });
  G.push({ type:'polygon', shape:{ points:[[206.5,508.4],[200,511.7],[206.5,515]] }, style:{ fill:col.red } });
  G.push({ type:'text', x:104, y:522, style:{ text:'Il17a', font:'bold 9.5px '+FONT, fill:col.red, textAlign:'center', textVerticalAlign:'middle' } });
  G.push({ type:'text', x:225, y:522, style:{ text:'Il17f', font:'bold 9.5px '+FONT, fill:col.red, textAlign:'center', textVerticalAlign:'middle' } });
})();

// axis break marks
[[53.3,615,620],[333,615.5,619.5],[71.7,770.2,775]].forEach(b=>{
  const [x, y1, y2] = b;
  G.push({ type:'line', shape:{ x1:x-3, y1:y1+1.5, x2:x+3, y2:y1-1.5 }, style:{ stroke:'#000', lineWidth:0.9 } });
  G.push({ type:'line', shape:{ x1:x-3, y1:y2+1.5, x2:x+3, y2:y2-1.5 }, style:{ stroke:'#000', lineWidth:0.9 } });
});

const chart = echarts.init(document.getElementById('chart'), null, { renderer:'canvas', width:687, height:875 });
chart.setOption(option);
</script>
</body>
</html>
